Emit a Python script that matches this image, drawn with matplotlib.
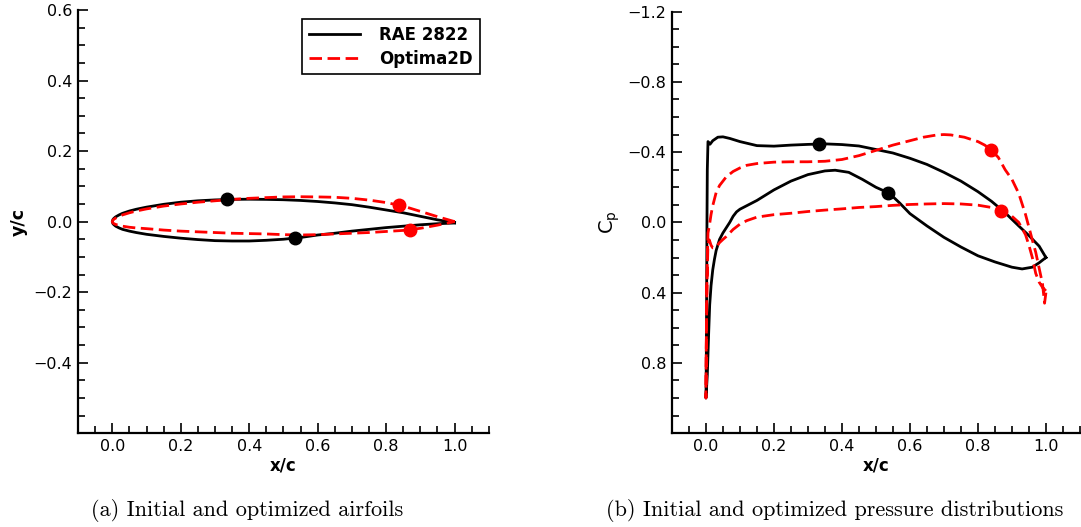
import matplotlib
matplotlib.use('Agg')
import matplotlib.pyplot as plt
from matplotlib.ticker import MultipleLocator

# ---- airfoil geometry ----
# RAE 2822: upper surface TE -> LE, then lower surface LE -> TE
rae_xu = [1.0, 0.95, 0.9, 0.85, 0.8, 0.75, 0.7, 0.65, 0.6, 0.55, 0.5, 0.45, 0.4, 0.35, 0.3,
          0.25, 0.2, 0.15, 0.1, 0.07, 0.05, 0.03, 0.02, 0.01, 0.005, 0.002, 0.0]
rae_yu = [-0.003, 0.005, 0.015, 0.025, 0.033, 0.041, 0.048, 0.053, 0.057, 0.060, 0.062, 0.063,
          0.0635, 0.063, 0.0615, 0.059, 0.055, 0.049, 0.041, 0.035, 0.030, 0.0235, 0.019, 0.0135,
          0.0095, 0.006, 0.0]
rae_xl = [0.0, 0.002, 0.005, 0.01, 0.02, 0.03, 0.05, 0.07, 0.1, 0.15, 0.2, 0.25, 0.3, 0.35, 0.4,
          0.45, 0.5, 0.55, 0.6, 0.65, 0.7, 0.75, 0.8, 0.85, 0.9, 0.95, 1.0]
rae_yl = [0.0, -0.006, -0.009, -0.013, -0.018, -0.022, -0.027, -0.031, -0.036, -0.042, -0.047,
          -0.051, -0.054, -0.055, -0.055, -0.053, -0.050, -0.045, -0.038, -0.033, -0.027, -0.022,
          -0.017, -0.013, -0.009, -0.006, -0.004]

# Optima2D optimized airfoil
opt_xu = [1.0, 0.95, 0.9, 0.85, 0.8, 0.75, 0.7, 0.65, 0.6, 0.55, 0.5, 0.45, 0.4, 0.35, 0.3,
          0.25, 0.2, 0.15, 0.1, 0.07, 0.05, 0.03, 0.02, 0.01, 0.005, 0.002, 0.0]
opt_yu = [0.0, 0.014, 0.029, 0.044, 0.054, 0.061, 0.066, 0.069, 0.070, 0.0705, 0.070, 0.068,
          0.066, 0.063, 0.059, 0.055, 0.050, 0.044, 0.036, 0.030, 0.025, 0.019, 0.015, 0.010,
          0.007, 0.0045, 0.0]
opt_xl = [0.0, 0.002, 0.005, 0.01, 0.02, 0.03, 0.05, 0.07, 0.1, 0.15, 0.2, 0.25, 0.3, 0.35, 0.4,
          0.45, 0.5, 0.55, 0.6, 0.65, 0.7, 0.75, 0.8, 0.85, 0.9, 0.95, 1.0]
opt_yl = [0.0, -0.004, -0.006, -0.008, -0.011, -0.013, -0.016, -0.018, -0.020, -0.024, -0.027,
          -0.029, -0.031, -0.033, -0.034, -0.035, -0.037, -0.038, -0.037, -0.035, -0.033, -0.031,
          -0.028, -0.025, -0.019, -0.010, 0.0]

# shock location markers
rae_mark_x = [0.335, 0.535]
rae_mark_y = [0.0635, -0.0465]
opt_mark_x = [0.837, 0.869]
opt_mark_y = [0.048, -0.023]

# ---- pressure distributions ----
rae_cpxu = [1.0, 0.98, 0.95, 0.92, 0.88, 0.84, 0.8, 0.75, 0.7, 0.65, 0.6, 0.55, 0.5, 0.45, 0.4,
            0.35, 0.3, 0.25, 0.2, 0.15, 0.1, 0.07, 0.05, 0.035, 0.02, 0.012, 0.008, 0.006,
            0.004, 0.003, 0.002, 0.001, 0.0]
rae_cpu = [0.20, 0.135, 0.075, 0.02, -0.055, -0.12, -0.175, -0.235, -0.285, -0.33, -0.365,
           -0.395, -0.415, -0.435, -0.443, -0.447, -0.444, -0.44, -0.434, -0.437, -0.46, -0.478,
           -0.487, -0.485, -0.465, -0.445, -0.455, -0.46, -0.3, 0.0, 0.4, 0.8, 1.0]
rae_cpxl = [0.0, 0.004, 0.008, 0.011, 0.015, 0.02, 0.025, 0.03, 0.04, 0.05, 0.06, 0.07, 0.08,
            0.09, 0.1, 0.12, 0.15, 0.2, 0.25, 0.3, 0.35, 0.38, 0.42, 0.46, 0.5, 0.54, 0.57, 0.6,
            0.65, 0.7, 0.75, 0.8, 0.85, 0.9, 0.93, 0.96, 0.98, 1.0]
rae_cpl = [1.0, 0.87, 0.63, 0.47, 0.36, 0.27, 0.21, 0.16, 0.097, 0.06, 0.03, 0.0, -0.035,
           -0.06, -0.075, -0.095, -0.125, -0.185, -0.235, -0.272, -0.293, -0.297, -0.285, -0.245,
           -0.2, -0.165, -0.11, -0.05, 0.02, 0.085, 0.14, 0.19, 0.225, 0.255, 0.265, 0.255, 0.23,
           0.20]

opt_cpxu = [1.0, 0.996, 0.99, 0.98, 0.97, 0.96, 0.94, 0.92, 0.9, 0.88, 0.86, 0.84, 0.82, 0.8,
            0.76, 0.72, 0.7, 0.68, 0.64, 0.6, 0.55, 0.5, 0.45, 0.4, 0.35, 0.3, 0.25, 0.2, 0.15,
            0.12, 0.1, 0.08, 0.06, 0.04, 0.03, 0.02, 0.015, 0.01, 0.006, 0.003, 0.001, 0.0]
opt_cpu = [0.40, 0.46, 0.35, 0.26, 0.17, 0.10, -0.045, -0.165, -0.245, -0.30, -0.37, -0.41,
           -0.44, -0.46, -0.485, -0.498, -0.50, -0.498, -0.485, -0.465, -0.44, -0.41, -0.38,
           -0.358, -0.348, -0.345, -0.345, -0.343, -0.335, -0.325, -0.31, -0.29, -0.26, -0.21,
           -0.17, -0.095, -0.045, 0.02, 0.06, 0.3, 0.7, 1.0]
opt_cpxl = [0.0, 0.001, 0.003, 0.006, 0.01, 0.015, 0.02, 0.025, 0.03, 0.04, 0.05, 0.06, 0.08,
            0.1, 0.12, 0.15, 0.2, 0.25, 0.3, 0.35, 0.4, 0.45, 0.5, 0.55, 0.6, 0.65, 0.7, 0.75,
            0.8, 0.84, 0.87, 0.9, 0.92, 0.94, 0.95, 0.96, 0.97, 0.98, 0.99, 1.0]
opt_cpl = [1.0, 0.7, 0.35, 0.12, 0.10, 0.13, 0.145, 0.145, 0.14, 0.115, 0.097, 0.08, 0.04,
           0.01, -0.01, -0.03, -0.044, -0.052, -0.062, -0.07, -0.077, -0.085, -0.09, -0.097,
           -0.102, -0.105, -0.107, -0.105, -0.098, -0.085, -0.064, -0.035, 0.0, 0.07, 0.13, 0.2,
           0.29, 0.34, 0.37, 0.39]

rae_cpmark_x = [0.333, 0.536]
rae_cpmark_y = [-0.449, -0.169]
opt_cpmark_x = [0.838, 0.869]
opt_cpmark_y = [-0.41, -0.064]

fig = plt.figure(figsize=(10.81, 5.27), dpi=100)
ax1 = fig.add_axes([0.0722, 0.178, 0.380, 0.803])
ax2 = fig.add_axes([0.6216, 0.178, 0.3774, 0.800])

dash = (4.5, 2)


def style(ax):
    for s in ['top', 'right']:
        ax.spines[s].set_visible(False)
    for s in ['left', 'bottom']:
        ax.spines[s].set_linewidth(1.6)
    ax.tick_params(which='both', direction='in', width=1.2, labelsize=11.5, pad=4)
    ax.tick_params(which='major', length=7)
    ax.tick_params(which='minor', length=5)
    ax.xaxis.set_major_locator(MultipleLocator(0.2))
    ax.xaxis.set_minor_locator(MultipleLocator(0.05))
    ax.set_xlim(-0.1, 1.1)
    ax.set_xlabel('x/c', fontsize=12, fontweight='bold', labelpad=2)


# (a) airfoils
ax1.plot(rae_xu + rae_xl, rae_yu + rae_yl, color='black', lw=2, label='RAE 2822')
ax1.plot(opt_xu + opt_xl, opt_yu + opt_yl, color='red', lw=2, dashes=dash, label='Optima2D')
ax1.plot(rae_mark_x, rae_mark_y, 'o', color='black', ms=9)
ax1.plot(opt_mark_x, opt_mark_y, 'o', color='red', ms=9)
style(ax1)
ax1.set_ylim(-0.6, 0.6)
ax1.yaxis.set_major_locator(MultipleLocator(0.2))
ax1.yaxis.set_minor_locator(MultipleLocator(0.05))
ax1.set_yticks([-0.4, -0.2, 0.0, 0.2, 0.4, 0.6])
ax1.set_ylabel('y/c', fontsize=12.5, fontweight='bold')
leg = ax1.legend(loc='upper right', fancybox=False, framealpha=1, edgecolor='black',
                 prop={'weight': 'bold', 'size': 12}, handlelength=3.1, handletextpad=1.15,
                 borderaxespad=0.55, labelspacing=0.35, borderpad=0.4)
leg.get_frame().set_linewidth(1.2)

# (b) pressure distributions
ax2.plot(rae_cpxu + rae_cpxl, rae_cpu + rae_cpl, color='black', lw=2)
ax2.plot(opt_cpxu + opt_cpxl, opt_cpu + opt_cpl, color='red', lw=2, dashes=dash)
ax2.plot(rae_cpmark_x, rae_cpmark_y, 'o', color='black', ms=9)
ax2.plot(opt_cpmark_x, opt_cpmark_y, 'o', color='red', ms=9)
style(ax2)
ax2.set_ylim(1.2, -1.2)
ax2.yaxis.set_major_locator(MultipleLocator(0.4))
ax2.yaxis.set_minor_locator(MultipleLocator(0.1))
ax2.set_yticks([-1.2, -0.8, -0.4, 0.0, 0.4, 0.8])
ax2.set_ylabel(r'C$_\mathregular{p}$', fontsize=14)

fig.text(0.229, 0.032, '(a) Initial and optimized airfoils', fontfamily='cmr10',
         fontsize=16, ha='center', va='center')
fig.text(0.772, 0.032, '(b) Initial and optimized pressure distributions', fontfamily='cmr10',
         fontsize=16, ha='center', va='center')

fig.savefig('out.png', dpi=100)
